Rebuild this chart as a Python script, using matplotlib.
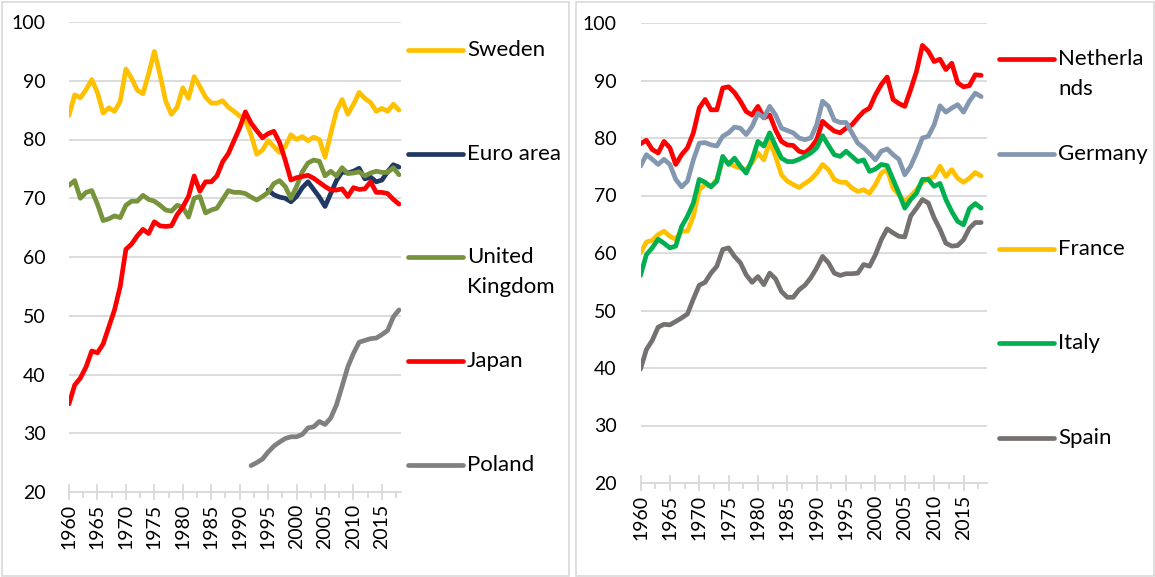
import matplotlib
matplotlib.use("Agg")
import matplotlib.pyplot as plt
from matplotlib.lines import Line2D
from matplotlib.patches import Rectangle
from matplotlib.ticker import MultipleLocator

# ---------------- data ----------------
years = list(range(1960, 2019))

sweden = [84.1, 87.6, 87.1, 88.5, 90.2, 88.0, 84.5, 85.4, 84.8, 86.5,
          92.0, 90.4, 88.4, 87.8, 91.2, 95.0, 91.0, 86.5, 84.3, 85.5,
          88.8, 87.0, 90.7, 89.0, 87.2, 86.2, 86.2, 86.6, 85.5, 84.8,
          84.0, 83.2, 80.8, 77.5, 78.2, 79.8, 78.8, 77.8, 78.8, 80.8,
          80.0, 80.5, 79.8, 80.4, 80.0, 77.0, 81.0, 84.8, 86.8, 84.3,
          86.0, 88.0, 87.0, 86.3, 84.8, 85.3, 84.8, 86.0, 85.0]

euro_years = list(range(1995, 2019))
euro_area = [71.4, 70.6, 70.2, 70.0, 69.4, 70.3, 71.8, 72.8, 71.5, 70.2,
             68.6, 70.8, 73.0, 74.5, 74.3, 74.6, 75.1, 73.3, 73.6, 72.8,
             73.1, 74.5, 75.7, 75.3]

uk = [72.2, 73.0, 70.0, 71.0, 71.3, 69.0, 66.2, 66.5, 67.0, 66.7,
      68.8, 69.5, 69.5, 70.5, 69.8, 69.5, 68.8, 68.0, 67.8, 68.8,
      68.5, 66.8, 70.0, 70.3, 67.5, 68.0, 68.3, 69.8, 71.3, 71.0,
      71.0, 70.8, 70.2, 69.7, 70.3, 71.0, 72.5, 73.0, 72.0, 70.0,
      72.0, 74.5, 76.0, 76.5, 76.3, 73.8, 74.6, 73.8, 75.2, 74.2,
      74.3, 74.5, 73.8, 74.3, 74.6, 74.4, 74.4, 75.2, 74.0]

japan = [35.0, 38.2, 39.4, 41.3, 44.0, 43.7, 45.2, 48.1, 51.0, 55.0,
         61.3, 62.2, 63.6, 64.7, 64.0, 66.0, 65.3, 65.2, 65.3, 67.2,
         68.5, 70.3, 73.8, 71.2, 72.8, 72.8, 73.8, 76.2, 77.6, 79.8,
         82.0, 84.7, 82.8, 81.5, 80.3, 81.0, 81.4, 79.5, 76.5, 73.1,
         73.5, 73.7, 73.9, 73.4, 72.7, 72.0, 71.4, 71.4, 71.6, 70.3,
         71.8, 71.5, 71.6, 72.8, 71.0, 71.0, 70.8, 69.8, 69.0]

poland_years = list(range(1992, 2019))
poland = [24.5, 25.0, 25.6, 26.8, 27.8, 28.5, 29.1, 29.4, 29.4, 29.8,
          30.9, 31.1, 32.0, 31.5, 32.6, 34.8, 38.0, 41.3, 43.6, 45.5,
          45.8, 46.1, 46.2, 46.8, 47.5, 49.8, 51.0]

netherlands = [79.0, 79.6, 78.0, 77.4, 79.4, 78.3, 75.4, 77.1, 78.3, 80.9,
               85.2, 86.7, 84.9, 84.9, 88.7, 88.9, 87.9, 86.4, 84.6, 84.0,
               85.5, 83.5, 84.0, 81.4, 79.4, 78.8, 78.7, 77.7, 77.4, 78.3,
               79.7, 82.9, 82.0, 81.2, 80.9, 81.7, 82.3, 83.5, 84.6, 85.2,
               87.5, 89.3, 90.6, 86.7, 86.0, 85.5, 88.4, 91.6, 96.1, 95.1,
               93.3, 93.7, 91.9, 93.0, 89.6, 88.9, 89.1, 91.0, 90.9]

germany = [75.1, 77.1, 76.3, 75.4, 76.3, 75.4, 72.8, 71.5, 72.5, 76.2,
           79.1, 79.2, 78.8, 78.6, 80.3, 80.9, 81.9, 81.7, 80.6, 82.0,
           84.3, 83.5, 85.5, 84.0, 81.7, 81.3, 80.9, 80.0, 79.7, 80.0,
           82.3, 86.4, 85.5, 83.1, 82.7, 82.7, 80.9, 79.1, 78.3, 77.3,
           76.2, 77.7, 78.1, 77.1, 76.3, 73.6, 75.1, 77.4, 80.0, 80.3,
           82.3, 85.6, 84.5, 85.2, 85.8, 84.5, 86.4, 87.8, 87.2]

france = [60.0, 61.9, 62.2, 63.2, 63.8, 62.9, 62.4, 63.8, 63.8, 66.4,
          71.0, 71.9, 71.6, 72.8, 76.2, 75.7, 75.1, 74.8, 74.5, 75.7,
          77.4, 76.2, 79.4, 76.8, 73.6, 72.5, 71.9, 71.4, 72.1, 72.8,
          73.9, 75.4, 74.5, 72.8, 72.3, 72.3, 71.3, 70.7, 71.0, 70.4,
          71.9, 73.9, 74.5, 71.3, 70.1, 69.0, 69.9, 71.0, 72.3, 72.9,
          73.3, 75.1, 73.3, 74.5, 73.0, 72.3, 73.0, 74.0, 73.4]

italy = [56.1, 59.7, 60.9, 62.4, 61.7, 60.9, 61.2, 64.6, 66.4, 68.7,
         72.8, 72.3, 71.5, 72.5, 76.8, 75.4, 76.5, 75.1, 73.9, 76.2,
         79.4, 78.6, 80.9, 78.6, 76.5, 75.9, 75.9, 76.3, 76.8, 77.4,
         78.3, 80.4, 78.7, 77.1, 76.8, 77.7, 76.8, 75.9, 76.2, 74.2,
         74.6, 75.4, 75.2, 72.8, 70.4, 67.8, 69.3, 70.4, 72.8, 72.8,
         71.6, 72.1, 69.3, 67.2, 65.5, 64.9, 67.7, 68.6, 67.8]

spain = [39.8, 43.2, 44.8, 47.1, 47.6, 47.5, 48.1, 48.7, 49.4, 52.0,
         54.4, 54.9, 56.5, 57.7, 60.6, 60.9, 59.4, 58.3, 56.2, 54.9,
         55.9, 54.5, 56.5, 55.5, 53.3, 52.3, 52.3, 53.6, 54.4, 55.7,
         57.4, 59.4, 58.3, 56.5, 56.1, 56.4, 56.4, 56.5, 58.0, 57.7,
         59.7, 62.3, 64.2, 63.5, 62.9, 62.8, 66.4, 67.8, 69.3, 68.7,
         66.1, 64.1, 61.7, 61.2, 61.3, 62.3, 64.3, 65.3, 65.3]

left_series = [
    ("Sweden", years, sweden, "#FFC000"),
    ("Euro area", euro_years, euro_area, "#203864"),
    ("United\nKingdom", years, uk, "#77933C"),
    ("Japan", years, japan, "#FF0000"),
    ("Poland", poland_years, poland, "#808080"),
]
right_series = [
    ("Netherla\nnds", years, netherlands, "#FF0000"),
    ("Germany", years, germany, "#8497B0"),
    ("France", years, france, "#FFC000"),
    ("Italy", years, italy, "#00B050"),
    ("Spain", years, spain, "#767171"),
]
y_ticks = [20, 30, 40, 50, 60, 70, 80, 90, 100]
x_ticks = list(range(1960, 2016, 5))

# ---------------- layout ----------------
W, H = 1155, 577
DPI = 100
FONT = "Lato"
GRID = "#D9D9D9"
fig = plt.figure(figsize=(W / DPI, H / DPI), dpi=DPI)


def px_rect(x0, y0, x1, y1):
    return [x0 / W, 1 - y1 / H, (x1 - x0) / W, (y1 - y0) / H]


def fxy(x, y):
    return x / W, 1 - y / H


# panel borders
for (x0, y0, x1, y1) in [(1.5, 1.5, 568.5, 575.5), (575.5, 1.5, 1153.5, 575.5)]:
    fig.add_artist(Rectangle((x0 / W, 1 - y1 / H), (x1 - x0) / W, (y1 - y0) / H,
                             transform=fig.transFigure, fill=False,
                             edgecolor=GRID, linewidth=1.2))


def make_axes(rect, xmax, series, leg_x0, leg_y0, leg_dy):
    ax = fig.add_axes(rect)
    for label, xs, ys, col in series:
        ax.plot(xs, ys, color=col, linewidth=3.4, solid_capstyle="round",
                solid_joinstyle="round")
    ax.set_xlim(1960, xmax)
    ax.set_ylim(20, 100)
    ax.set_yticks(y_ticks)
    ax.set_xticks(x_ticks)
    ax.xaxis.set_minor_locator(MultipleLocator(2.5))
    ax.grid(axis="y", color=GRID, linewidth=1.3)
    ax.set_axisbelow(True)
    for s in ["left", "right", "top"]:
        ax.spines[s].set_visible(False)
    ax.spines["bottom"].set_color(GRID)
    ax.spines["bottom"].set_linewidth(1.3)
    ax.tick_params(axis="y", length=0, pad=17, labelsize=14)
    ax.tick_params(axis="x", which="major", direction="inout", length=11,
                   width=1.3, color=GRID, pad=3, labelsize=14, labelrotation=90)
    ax.tick_params(axis="x", which="minor", direction="out", length=4,
                   width=1.3, color=GRID)
    for t in ax.get_xticklabels() + ax.get_yticklabels():
        t.set_fontfamily(FONT)
    # legend drawn manually at Excel-like positions
    for i, (label, xs, ys, col) in enumerate(series):
        yy = leg_y0 + i * leg_dy
        x0, y0 = fxy(leg_x0, yy)
        x1, _ = fxy(leg_x0 + 55, yy)
        fig.add_artist(Line2D([x0, x1], [y0, y0], transform=fig.transFigure,
                              color=col, linewidth=3.4, solid_capstyle="round"))
        for j, line in enumerate(label.split("\n")):
            tx, ty = fxy(leg_x0 + 59, yy + j * 30)
            fig.text(tx, ty, line, fontsize=16, family=FONT, va="center",
                     ha="left", color="black")
    return ax


ax1 = make_axes(px_rect(69, 22, 401, 492), 2018.35, left_series, 408, 50, 103.7)
ax2 = make_axes(px_rect(640.5, 23, 987, 483), 2019.0, right_series, 999, 59, 94.8)

fig.savefig("out.png", dpi=DPI)
